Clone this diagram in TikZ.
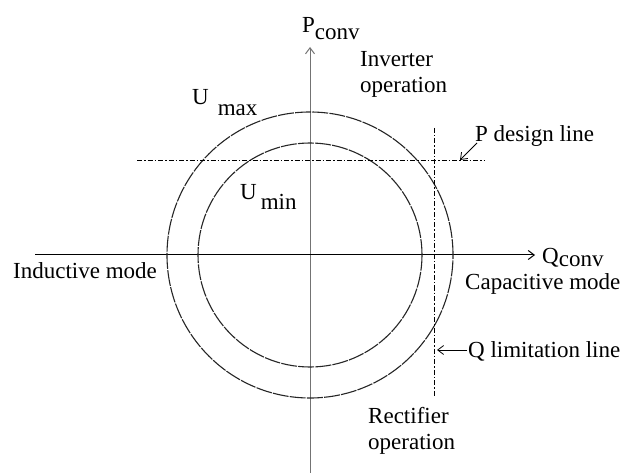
\documentclass[tikz,border=0pt]{standalone}
\usepackage{fontspec}
\setmainfont{Liberation Serif}
\usetikzlibrary{arrows.meta}
\begin{document}
\begin{tikzpicture}[x=1pt,y=-1pt,
  lbl/.style={inner sep=0pt,font=\fontsize{23}{26}\selectfont},
  axis/.style={line width=1pt,-{Straight Barb[length=6pt,width=9pt]}},
  ring/.style={line width=1.1pt,draw=black!85,dash pattern=on 16pt off 1.2pt},
  dashdot/.style={line width=1pt,dash pattern=on 5pt off 2pt on 1.5pt off 2pt},
  pointer/.style={line width=0.8pt,-{Straight Barb[length=6pt,width=9pt]}}]
\useasboundingbox (0,0) rectangle (624,473);
% axes
\coordinate (O) at (310,255);
\coordinate (vb) at (310,473);
\coordinate (vt) at (310,47);
\coordinate (hl) at (35,255);
\coordinate (hr) at (535,255);
\draw[axis,draw=black!55] (vb) -- (vt);
\draw[axis] (hl) -- (hr);
% circles
\draw[ring] (O) circle (143pt);
\draw[ring] (O) circle (112pt);
% design lines
\coordinate (pl) at (137,161);
\coordinate (pr) at (485,161);
\coordinate (qt) at (434,128);
\coordinate (qb) at (434,397);
\draw[dashdot] (pl) -- (pr);
\draw[dashdot] (qt) -- (qb);
% labels
\node[lbl,anchor=base west] (pconv) at (302,33) {P\raisebox{-7pt}{conv}};
\node[lbl,anchor=north west,align=left] (inv) at (360,51.5) {Inverter\\operation};
\node[lbl,anchor=base west] (umax) at (192,105) {U\hspace{9pt}\raisebox{-11pt}{max}};
\node[lbl,anchor=base west] (umin) at (240,200) {U\hspace{4pt}\raisebox{-10pt}{min}};
\node[lbl,anchor=base west] (pdl) at (475,142) {P design line};
\node[lbl,anchor=base west] (ind) at (13,278) {Inductive mode};
\node[lbl,anchor=base west] (qconv) at (542,263) {Q\raisebox{-3pt}{conv}};
\node[lbl,anchor=base west] (cap) at (465,290) {Capacitive mode};
\node[lbl,anchor=base west] (qll) at (468,357) {Q limitation line};
\node[lbl,anchor=north west,align=left] (rect) at (368,407) {Rectifier\\operation};
% pointers
\coordinate (pa0) at (477,143);
\coordinate (pa1) at (460,160);
\coordinate (qa0) at (467,350);
\coordinate (qa1) at (437,350);
\draw[pointer] (pa0) -- (pa1);
\draw[pointer] (qa0) -- (qa1);
\end{tikzpicture}
\end{document}
